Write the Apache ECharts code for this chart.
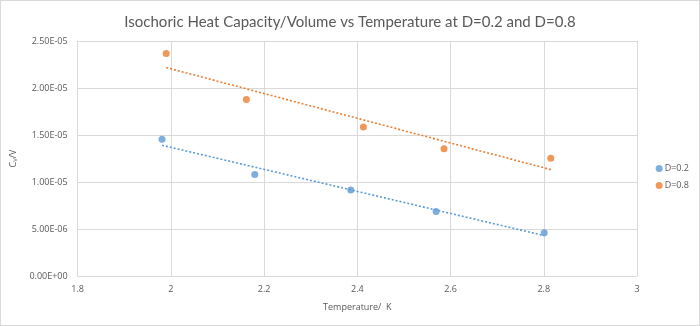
<!DOCTYPE html>
<html>
<head>
<meta charset="utf-8">
<script src="https://cdn.jsdelivr.net/npm/echarts@6/dist/echarts.min.js"></script>
<style>
html,body{margin:0;padding:0;background:#fff;}
#c{width:700px;height:326px;box-sizing:border-box;border:1px solid #d9d9d9;}
</style>
</head>
<body>
<div id="c"></div>
<script>
const titleText = 'Isochoric Heat Capacity/Volume vs Temperature at D=0.2 and D=0.8';
const seriesNames = ['D=0.2', 'D=0.8'];
const tempD02 = [1.981, 2.180, 2.386, 2.569, 2.801];
const cvD02 = [1.456e-5, 1.079e-5, 0.915e-5, 0.686e-5, 0.461e-5];
const tempD08 = [1.990, 2.162, 2.413, 2.586, 2.815];
const cvD08 = [2.366e-5, 1.878e-5, 1.585e-5, 1.353e-5, 1.252e-5];
const xTicks = [1.8, 2, 2.2, 2.4, 2.6, 2.8, 3];
const yTicks = [0, 5e-6, 1e-5, 1.5e-5, 2e-5, 2.5e-5];

function pairs(xs, ys){ return xs.map((x,i)=>[x, ys[i]]); }
function trend(xs, ys){
  const n = xs.length;
  const mx = xs.reduce((a,b)=>a+b,0)/n, my = ys.reduce((a,b)=>a+b,0)/n;
  let sxy=0, sxx=0;
  for(let i=0;i<n;i++){ sxy+=(xs[i]-mx)*(ys[i]-my); sxx+=(xs[i]-mx)*(xs[i]-mx); }
  const b = sxy/sxx, a = my - b*mx;
  const x0 = Math.min(...xs), x1 = Math.max(...xs);
  return [[x0, a+b*x0],[x1, a+b*x1]];
}
function fmtE(v){
  if (v === 0) return '0.00E+00';
  const s = v.toExponential(2).toUpperCase();
  const m = s.match(/^(.*)E([+-])(\d+)$/);
  return m[1] + 'E' + m[2] + (m[3].length < 2 ? '0' + m[3] : m[3]);
}
const blue = '#5B9BD5', orange = '#ED7D31';
const font = '"Open Sans", "Liberation Sans", sans-serif';
const chart = echarts.init(document.getElementById('c'));
chart.setOption({
  animation: false,
  title: {
    text: titleText, left: 'center', top: 9,
    textStyle: {fontFamily: 'Lato, "Open Sans", sans-serif', fontSize: 15, fontWeight: 'normal', color: '#595959'}
  },
  legend: {
    orient: 'vertical', right: 10, top: 163, padding: 0, itemWidth: 7, itemHeight: 7, itemGap: 8,
    data: seriesNames.map(n=>({name:n, icon:'circle'})),
    textStyle: {fontFamily: font, fontSize: 9, color: '#595959', padding:[0,0,0,-3]}
  },
  grid: {left: 76, right: 62, top: 40, bottom: 49, containLabel: false},
  xAxis: {
    type: 'value', min: 1.8, max: 3, interval: 0.2,
    name: 'Temperature/  K', nameLocation: 'middle', nameGap: 27,
    nameTextStyle: {fontFamily: font, fontSize: 9, color: '#595959'},
    axisLine: {show: true, lineStyle: {color: '#d9d9d9'}},
    axisTick: {show: false},
    axisLabel: {fontFamily: font, fontSize: 9, color: '#595959', margin: 9,
      formatter: v => String(parseFloat(v.toFixed(1)))},
    splitLine: {show: true, lineStyle: {color: '#d9d9d9'}}
  },
  yAxis: {
    type: 'value', min: 0, max: 2.5e-5, interval: 5e-6,
    name: '{n|C}{s|V}{n|/V}', nameLocation: 'middle', nameGap: 41, nameRotate: 90,
    nameTextStyle: {rich: {
      n: {fontFamily: font, fontSize: 9, color: '#595959'},
      s: {fontFamily: font, fontSize: 6, color: '#595959', verticalAlign: 'bottom', padding:[4,0,0,0]}
    }},
    axisLine: {show: true, lineStyle: {color: '#d9d9d9'}},
    axisTick: {show: false},
    axisLabel: {fontFamily: font, fontSize: 9, color: '#595959', margin: 10, formatter: fmtE},
    splitLine: {show: true, lineStyle: {color: '#d9d9d9'}}
  },
  series: [
    {name: seriesNames[0], type: 'scatter', symbolSize: 7, itemStyle: {color: blue}, data: pairs(tempD02, cvD02), z: 3},
    {name: seriesNames[1], type: 'scatter', symbolSize: 7, itemStyle: {color: orange}, data: pairs(tempD08, cvD08), z: 3},
    {name: 'trend1', type: 'line', showSymbol: false, symbol: 'none', silent: true,
      lineStyle: {color: blue, width: 1.6, type: [2,2]}, data: trend(tempD02, cvD02), z: 2},
    {name: 'trend2', type: 'line', showSymbol: false, symbol: 'none', silent: true,
      lineStyle: {color: orange, width: 1.6, type: [2,2]}, data: trend(tempD08, cvD08), z: 2}
  ]
});
</script>
</body>
</html>
